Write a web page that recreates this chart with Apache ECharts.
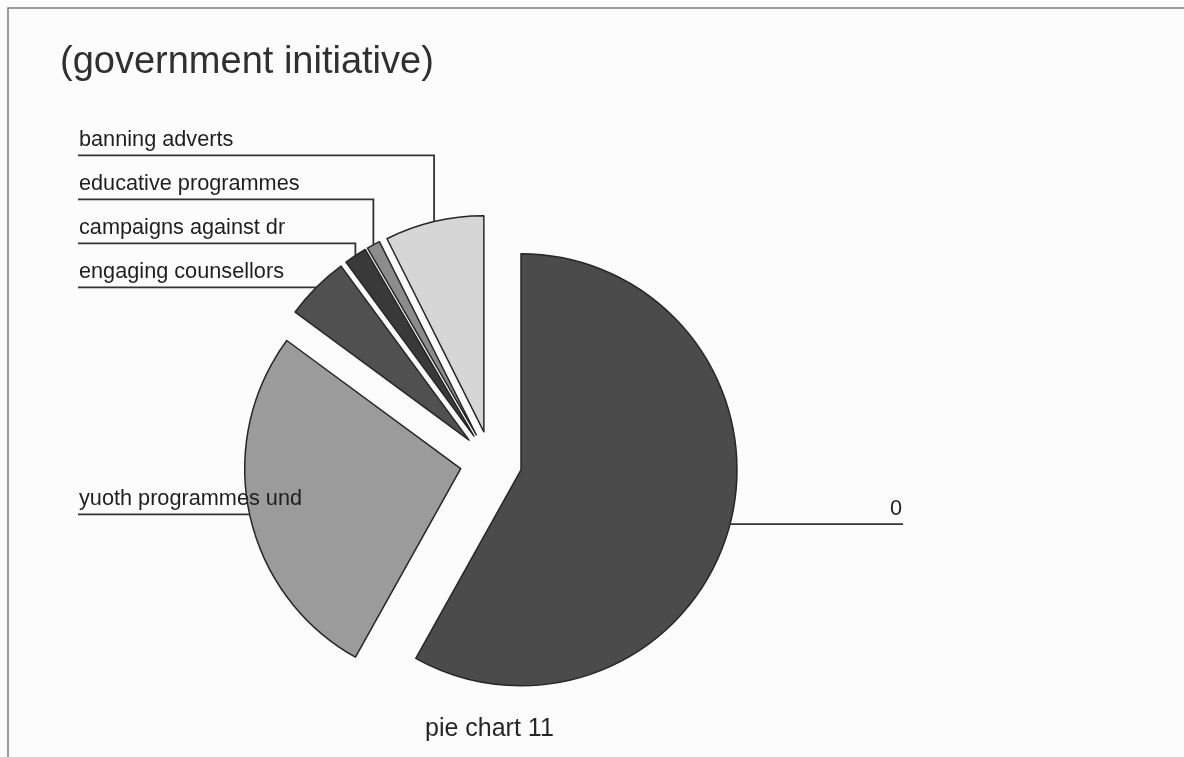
<!DOCTYPE html>
<html>
<head>
<meta charset="utf-8">
<title>(government initiative)</title>
<script src="https://cdn.jsdelivr.net/npm/echarts@6/dist/echarts.min.js"></script>
<style>
  html, body { margin: 0; padding: 0; background: #fcfcfc; }
  #chart { width: 1184px; height: 757px; }
</style>
</head>
<body>
<div id="chart"></div>
<script>
// Slice names and their shares (percent), clockwise from 12 o'clock
const categories = ['0', 'yuoth programmes und', 'engaging counsellors', 'campaigns against dr', 'educative programmes', 'banning adverts'];
const shares = [58.1, 27.0, 4.8, 1.7, 1.0, 7.4];
const sliceColors = ['#4b4b4b', '#9b9b9b', '#505050', '#393939', '#8c8c8c', '#d6d6d6'];
const titleText = '(government initiative)';
const captionText = 'pie chart 11';

// Geometry of the exploded pie and the callout rows
const CENTER = [491, 462];
const RADIUS = 216;
const EXPLODE = 31;
const LEFT_TEXT_X = 79;
const LEFT_LINE_X = 78;
const RIGHT_EDGE_X = 903;
const ROW_GAP = 44;
const FONT = '"Liberation Sans", Arial, sans-serif';

// Mid angle of each slice in screen radians (start at 12 o'clock, clockwise)
const total = shares.reduce((a, b) => a + b, 0);
const midAngles = [];
let run = 0;
shares.forEach(v => {
  const span = v / total * Math.PI * 2;
  midAngles.push(-Math.PI / 2 + run + span / 2);
  run += span;
});

// Outer mid-point of each exploded slice: where its leader line starts
const anchors = midAngles.map(a => [
  CENTER[0] + (RADIUS + EXPLODE) * Math.cos(a),
  CENTER[1] + (RADIUS + EXPLODE) * Math.sin(a)
]);

// Row (y of the horizontal leader) for every label; left labels stack upward
const rowY = anchors.map(p => p[1]);
const leftOrder = anchors
  .map((p, i) => i)
  .filter(i => Math.cos(midAngles[i]) <= 0)
  .sort((a, b) => anchors[b][1] - anchors[a][1]);
let prevRow = Infinity;
leftOrder.forEach(i => {
  rowY[i] = Math.min(anchors[i][1], prevRow - ROW_GAP);
  prevRow = rowY[i];
});

// Callouts: text sits on a horizontal leader that runs to the page edge,
// joined to the slice by a vertical drop
function layoutLabel(params) {
  const i = params.dataIndex;
  const mid = midAngles[i];
  const dx = Math.cos(mid) * EXPLODE;
  const dy = Math.sin(mid) * EXPLODE;
  const p0 = params.labelLinePoints ? params.labelLinePoints[0] : [anchors[i][0] - dx, anchors[i][1] - dy];
  const ax = p0[0] + dx;
  const ay = p0[1] + dy;
  const y = rowY[i];
  const right = Math.cos(mid) > 0;
  const endX = right ? RIGHT_EDGE_X : LEFT_LINE_X;
  return {
    x: right ? RIGHT_EDGE_X - 1 : LEFT_TEXT_X,
    y: y - 4,
    align: right ? 'right' : 'left',
    verticalAlign: 'bottom',
    labelLinePoints: [[ax, ay], [ax, y], [endX, y]]
  };
}

const pieData = categories.map((name, i) => ({
  name: name,
  value: shares[i],
  selected: true,
  itemStyle: { color: sliceColors[i] }
}));

const chart = echarts.init(document.getElementById('chart'), null, { renderer: 'canvas' });

chart.setOption({
  backgroundColor: '#fcfcfc',
  animation: false,
  title: [
    {
      text: titleText,
      left: 55,
      top: 39,
      textStyle: { fontFamily: FONT, fontSize: 38, fontWeight: 'normal', color: '#303030' }
    },
    {
      text: captionText,
      left: 420,
      top: 712,
      textStyle: { fontFamily: FONT, fontSize: 25, fontWeight: 'normal', color: '#262626' }
    }
  ],
  graphic: [
    {
      type: 'rect',
      silent: true,
      shape: { x: 8, y: 8, width: 1400, height: 900 },
      style: { fill: null, stroke: '#7c7c7c', lineWidth: 1.5 }
    }
  ],
  series: [
    {
      // the exploded slices
      type: 'pie',
      center: CENTER,
      radius: RADIUS,
      startAngle: 90,
      clockwise: true,
      selectedMode: 'multiple',
      selectedOffset: EXPLODE,
      emphasis: { scale: false },
      itemStyle: { borderColor: '#262626', borderWidth: 1.5 },
      label: { show: false },
      labelLine: { show: false },
      data: pieData
    },
    {
      // same slices, unfilled, carrying the callout labels
      type: 'pie',
      silent: true,
      z: 3,
      center: CENTER,
      radius: RADIUS,
      startAngle: 90,
      clockwise: true,
      avoidLabelOverlap: false,
      emphasis: { disabled: true },
      itemStyle: { color: 'rgba(0,0,0,0)', borderWidth: 0 },
      label: {
        show: true,
        position: 'outside',
        formatter: '{b}',
        color: '#1f1f1f',
        fontFamily: FONT,
        fontSize: 21.7,
        width: 400,
        overflow: 'none'
      },
      labelLine: {
        show: true,
        length: 10,
        length2: 10,
        lineStyle: { color: '#333333', width: 1.8 }
      },
      labelLayout: layoutLabel,
      data: categories.map((name, i) => ({ name: name, value: shares[i] }))
    }
  ]
});
</script>
</body>
</html>
